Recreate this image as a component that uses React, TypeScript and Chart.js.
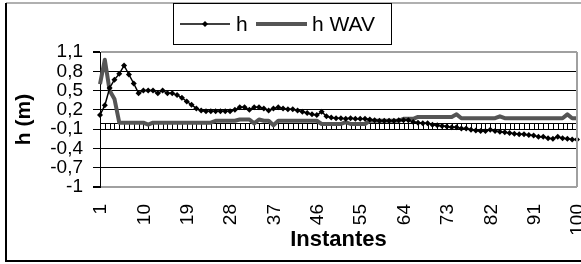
import { useEffect, useRef } from 'react';
import { Chart, registerables } from 'chart.js';

Chart.register(...registerables);

const categories: string[] = [
  '1','2','3','4','5','6','7','8','9','10',
  '11','12','13','14','15','16','17','18','19','20',
  '21','22','23','24','25','26','27','28','29','30',
  '31','32','33','34','35','36','37','38','39','40',
  '41','42','43','44','45','46','47','48','49','50',
  '51','52','53','54','55','56','57','58','59','60',
  '61','62','63','64','65','66','67','68','69','70',
  '71','72','73','74','75','76','77','78','79','80',
  '81','82','83','84','85','86','87','88','89','90',
  '91','92','93','94','95','96','97','98','99','100',
];

const hValues: number[] = [
  0.12, 0.27, 0.54, 0.67, 0.76, 0.89, 0.75, 0.61, 0.46, 0.5,
  0.5, 0.5, 0.46, 0.5, 0.46, 0.46, 0.43, 0.39, 0.33, 0.28,
  0.22, 0.19, 0.18, 0.18, 0.18, 0.18, 0.18, 0.18, 0.2, 0.24,
  0.24, 0.2, 0.24, 0.24, 0.22, 0.19, 0.22, 0.24, 0.22, 0.21,
  0.21, 0.19, 0.17, 0.15, 0.13, 0.12, 0.17, 0.1, 0.08, 0.07,
  0.07, 0.06, 0.07, 0.06, 0.06, 0.06, 0.05, 0.04, 0.03, 0.03,
  0.03, 0.03, 0.04, 0.04, 0.04, 0.01, 0.0, -0.01, -0.01, -0.03,
  -0.04, -0.05, -0.06, -0.07, -0.07, -0.09, -0.09, -0.11, -0.12, -0.13,
  -0.13, -0.11, -0.13, -0.14, -0.15, -0.16, -0.17, -0.18, -0.18, -0.19,
  -0.2, -0.22, -0.22, -0.24, -0.25, -0.22, -0.24, -0.25, -0.26, -0.26,
];

const hWavValues: number[] = [
  0.6, 0.98, 0.5, 0.37, 0.0, 0.0, 0.0, 0.0, 0.0, 0.0,
  -0.03, 0.0, 0.0, 0.0, 0.0, 0.0, 0.0, 0.0, 0.0, 0.0,
  0.0, 0.0, 0.0, 0.0, 0.03, 0.03, 0.03, 0.03, 0.03, 0.05,
  0.05, 0.05, -0.01, 0.05, 0.03, 0.03, -0.04, 0.03, 0.03, 0.03,
  0.03, 0.03, 0.03, 0.03, 0.03, 0.03, -0.02, -0.02, -0.02, -0.02,
  -0.02, 0.01, -0.02, -0.02, -0.02, -0.02, 0.03, 0.03, 0.03, 0.03,
  0.03, 0.03, 0.03, 0.06, 0.06, 0.06, 0.09, 0.09, 0.09, 0.09,
  0.09, 0.09, 0.09, 0.09, 0.13, 0.07, 0.07, 0.07, 0.07, 0.07,
  0.07, 0.07, 0.07, 0.1, 0.07, 0.07, 0.07, 0.07, 0.07, 0.07,
  0.07, 0.07, 0.07, 0.07, 0.07, 0.07, 0.07, 0.13, 0.07, 0.07,
];

const xTickLabels: string[] = ['1', '10', '19', '28', '37', '46', '55', '64', '73', '82', '91', '100'];
const yTicks: number[] = [-1, -0.7, -0.4, -0.1, 0.2, 0.5, 0.8, 1.1];
const axisCross = -0.1;

const seriesNames = ['h', 'h WAV'];
const FONT = 'Liberation Sans, Arial, sans-serif';
const WAV_COLOR = '#555555';
const EDGE_GRAY = '#a0a0a0';

const fmt = (v: number) => String(Math.round(v * 10) / 10).replace('.', ',');

const crossAxisPlugin = {
  id: 'crossAxis',
  beforeDatasetsDraw(chart: any) {
    const { ctx, scales, chartArea } = chart;
    const x = scales.x;
    const y = scales.y;
    const yp = Math.round(y.getPixelForValue(axisCross)) + 0.5;
    const h = 6;
    ctx.save();
    ctx.strokeStyle = '#000';
    ctx.lineWidth = 1;
    ctx.beginPath();
    ctx.moveTo(chartArea.left, yp);
    ctx.lineTo(chartArea.right, yp);
    ctx.moveTo(chartArea.left, yp - h);
    ctx.lineTo(chartArea.right, yp - h);
    for (let i = 0; i < categories.length; i++) {
      const xp = Math.round(x.getPixelForValue(i)) + 0.5;
      ctx.moveTo(xp, yp);
      ctx.lineTo(xp, yp - h);
    }
    ctx.stroke();
    ctx.restore();
  },
};

const xLabelsPlugin = {
  id: 'xLabels',
  afterDraw(chart: any) {
    const { ctx, scales, chartArea } = chart;
    const x = scales.x;
    ctx.save();
    ctx.fillStyle = '#000';
    ctx.font = `19px ${FONT}`;
    ctx.textAlign = 'right';
    ctx.textBaseline = 'middle';
    for (const lab of xTickLabels) {
      const idx = categories.indexOf(lab);
      const px = x.getPixelForValue(idx);
      ctx.save();
      ctx.translate(px + 1, chartArea.bottom + 17);
      ctx.rotate(-Math.PI / 2);
      ctx.fillText(lab, 0, 0);
      ctx.restore();
    }
    ctx.restore();
  },
};

const framePlugin = {
  id: 'frame',
  afterDraw(chart: any) {
    const { ctx, chartArea, width, height } = chart;
    ctx.save();
    // plot area right border
    ctx.strokeStyle = EDGE_GRAY;
    ctx.lineWidth = 2;
    ctx.beginPath();
    ctx.moveTo(chartArea.right, chartArea.top);
    ctx.lineTo(chartArea.right, chartArea.bottom);
    ctx.stroke();
    // outer chart border
    ctx.strokeStyle = '#b0b0b0';
    ctx.beginPath();
    ctx.moveTo(6, 3);
    ctx.lineTo(width, 3);
    ctx.stroke();
    ctx.strokeStyle = '#000';
    ctx.beginPath();
    ctx.moveTo(6, 3);
    ctx.lineTo(6, height - 3);
    ctx.lineTo(width, height - 3);
    ctx.stroke();

    // legend
    const lx = 173.5, ly = 3.5, lw = 218, lh = 41;
    const cy = 24;
    ctx.fillStyle = '#fff';
    ctx.fillRect(lx, ly, lw, lh);
    ctx.strokeStyle = '#000';
    ctx.lineWidth = 1;
    ctx.strokeRect(lx, ly, lw, lh);
    // h sample
    ctx.beginPath();
    ctx.lineWidth = 1.5;
    ctx.moveTo(180, cy);
    ctx.lineTo(230, cy);
    ctx.stroke();
    ctx.fillStyle = '#000';
    ctx.beginPath();
    ctx.moveTo(205, cy - 3);
    ctx.lineTo(208, cy);
    ctx.lineTo(205, cy + 3);
    ctx.lineTo(202, cy);
    ctx.closePath();
    ctx.fill();
    ctx.font = `21px ${FONT}`;
    ctx.textBaseline = 'middle';
    ctx.textAlign = 'left';
    ctx.fillText(seriesNames[0], 236, cy + 1);
    // h WAV sample
    ctx.strokeStyle = WAV_COLOR;
    ctx.lineWidth = 4;
    ctx.beginPath();
    ctx.moveTo(256, cy);
    ctx.lineTo(307, cy);
    ctx.stroke();
    ctx.fillStyle = '#000';
    ctx.fillText(seriesNames[1], 312, cy + 1);
    ctx.restore();
  },
};

function App() {
  const ref = useRef<HTMLCanvasElement | null>(null);

  useEffect(() => {
    if (!ref.current) return;
    const isEdge = (c: any) => {
      const v = c.tick ? c.tick.value : null;
      return v === yTicks[0] || v === yTicks[yTicks.length - 1];
    };
    const chart = new Chart(ref.current, {
      type: 'line',
      data: {
        labels: categories,
        datasets: [
          {
            label: seriesNames[0],
            data: hValues,
            borderColor: '#000',
            backgroundColor: '#000',
            borderWidth: 1.5,
            pointStyle: 'rectRot',
            pointRadius: 3,
            pointBorderWidth: 0,
            pointBackgroundColor: '#000',
            tension: 0,
            fill: false,
          },
          {
            label: seriesNames[1],
            data: hWavValues,
            borderColor: WAV_COLOR,
            borderWidth: 4,
            borderJoinStyle: 'round',
            pointRadius: 0,
            tension: 0,
            fill: false,
          },
        ],
      },
      options: {
        animation: false,
        responsive: false,
        events: [],
        layout: { padding: { left: 6, right: 4, top: 52, bottom: 0 } },
        plugins: {
          legend: { display: false },
          tooltip: { enabled: false },
        },
        scales: {
          x: {
            type: 'category',
            offset: false,
            grid: { display: false },
            border: { display: false },
            ticks: { display: false },
            title: {
              display: true,
              text: 'Instantes',
              color: '#000',
              font: { family: FONT, size: 22, weight: 'bold' },
              padding: { top: 0, bottom: 11 },
            },
            afterFit: (s: any) => {
              s.height = 77;
              s.paddingLeft = 0;
              s.paddingRight = 0;
            },
          },
          y: {
            min: yTicks[0],
            max: yTicks[yTicks.length - 1],
            afterBuildTicks: (s: any) => {
              s.ticks = yTicks.map((v) => ({ value: v }));
            },
            grid: {
              color: (c: any) => (isEdge(c) ? EDGE_GRAY : '#000'),
              lineWidth: (c: any) => (isEdge(c) ? 2 : 1),
              tickColor: '#000',
              tickLength: 7,
              drawTicks: true,
            },
            border: { display: true, color: '#000', width: 1 },
            ticks: {
              autoSkip: false,
              padding: 10,
              color: '#000',
              font: { family: FONT, size: 19 },
              callback: (v: any) => fmt(Number(v)),
            },
            title: {
              display: true,
              text: 'h (m)',
              color: '#000',
              font: { family: FONT, size: 21, weight: 'bold' },
              padding: { top: 6, bottom: 0 },
            },
            afterFit: (s: any) => {
              s.width = 94;
              s.paddingTop = 0;
              s.paddingBottom = 0;
            },
          },
        },
      },
      plugins: [crossAxisPlugin, xLabelsPlugin, framePlugin],
    } as any);
    return () => chart.destroy();
  }, []);

  return (
    <div style={{ position: 'absolute', left: 0, top: 0, width: 581, height: 264, background: '#fff' }}>
      <canvas ref={ref} width={581} height={264} style={{ display: 'block' }} />
    </div>
  );
}

export default App;
